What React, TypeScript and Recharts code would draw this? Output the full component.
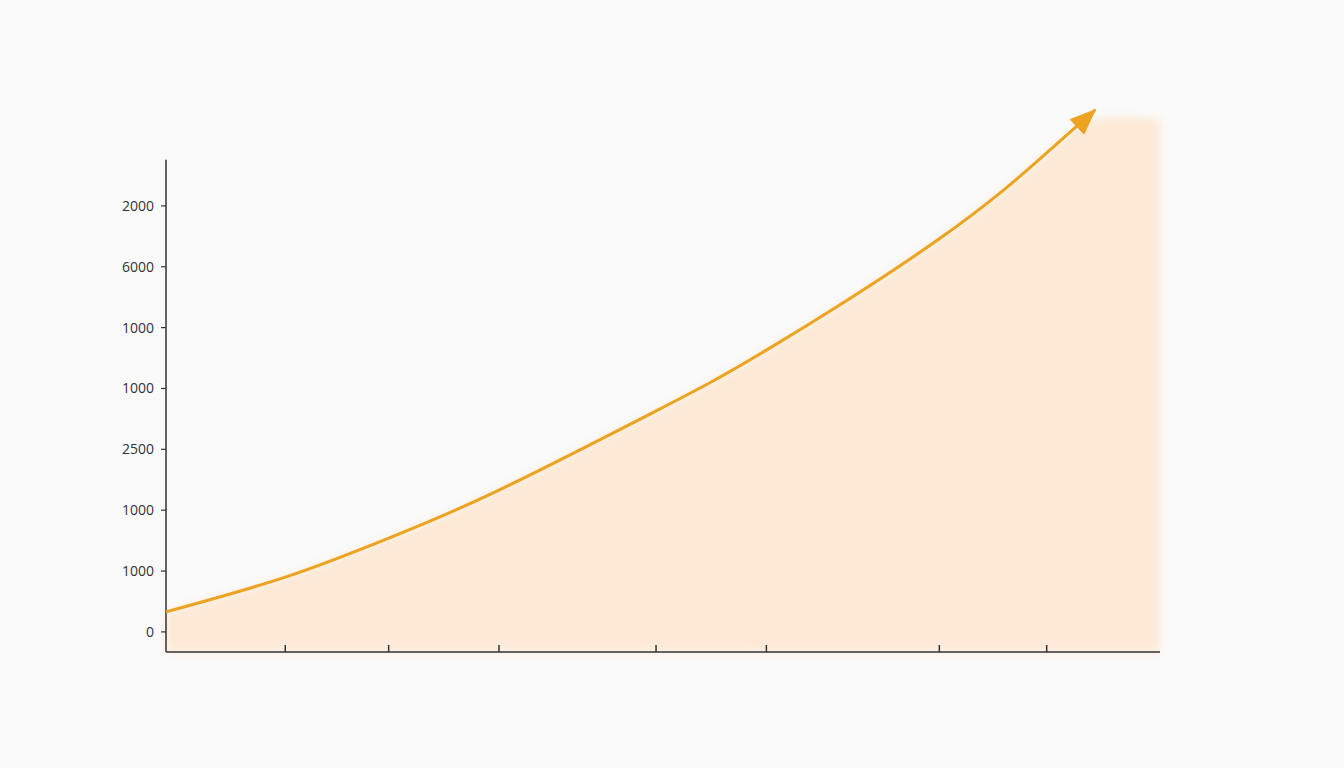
import { ComposedChart, Line, Area, XAxis, YAxis, ReferenceLine } from 'recharts';

// y axis: evenly spaced tick slots, labels as printed (bottom -> top)
const yTickSlots = [0, 1, 2, 3, 4, 5, 6, 7];
const yTickLabels = ['0', '1000', '1000', '2500', '1000', '1000', '6000', '2000'];

// x axis: unlabeled tick marks
const xTicks = [12, 22.4, 33.5, 49.3, 60.4, 77.8, 88.6];

// curve samples (x, value)
const curveX = [0, 12, 22.4, 33.5, 49.3, 60.4, 77.8, 88.6, 93.5];
const curveY = [0.33, 0.9, 1.54, 2.33, 3.63, 4.63, 6.46, 7.87, 8.58];

// shaded region: follows curve, then flat plateau to right edge
const shadeX = [0, 12, 22.4, 33.5, 49.3, 60.4, 77.8, 88.6, 93.5, 100];
const shadeY = [0.33, 0.9, 1.54, 2.33, 3.63, 4.63, 6.46, 7.87, 8.42, 8.42];

const data = shadeX.map((x, i) => {
    const ci = curveX.indexOf(x);
    return { x, shade: shadeY[i], value: ci >= 0 ? curveY[ci] : null };
});

const LINE = '#eda31f';

// eslint-disable-next-line @typescript-eslint/no-explicit-any
const ArrowDot = (props: any) => {
    const { cx, cy, index } = props;
    if (index !== curveX.length - 1 || cx == null || cy == null) return <g key={`d${index}`} />;
    const ang = (43 * Math.PI) / 180;
    const dx = Math.cos(ang), dy = -Math.sin(ang);
    const len = 25, half = 10;
    const bx = cx - dx * len, by = cy - dy * len;
    const px = -dy, py = dx;
    const pts = `${cx},${cy} ${bx + px * half},${by + py * half} ${bx - px * half},${by - py * half}`;
    return <polygon key={`d${index}`} points={pts} fill={LINE} stroke={LINE} strokeLinejoin="round" strokeWidth={1} />;
};

export default function App() {
    return (
        <div style={{ position: 'absolute', left: 0, top: 0, width: 1344, height: 768, background: '#fafafa' }}>
            <ComposedChart width={1344} height={768} data={data} margin={{ top: 100, right: 184, bottom: 116, left: 0 }}>
                <defs>
                    <filter id="soft" x="-10%" y="-10%" width="120%" height="120%">
                        <feGaussianBlur stdDeviation="5" />
                    </filter>
                </defs>
                <XAxis
                    dataKey="x"
                    type="number"
                    domain={[0, 100]}
                    ticks={xTicks}
                    mirror
                    tickSize={7}
                    tickFormatter={() => ''}
                    stroke="#333"
                    strokeWidth={1.5}
                    height={30}
                />
                <YAxis
                    type="number"
                    domain={[-0.33, 8.74]}
                    ticks={yTickSlots}
                    width={166}
                    axisLine={false}
                    tickSize={5}
                    tickMargin={7}
                    tickLine={{ stroke: '#333', strokeWidth: 1.2 }}
                    tickFormatter={(v) => yTickLabels[Number(v)] ?? ''}
                    tick={{ fill: '#333', fontSize: 14, fontFamily: '"Open Sans", sans-serif' }}
                />
                <ReferenceLine
                    segment={[{ x: 0, y: -0.33 }, { x: 0, y: 7.76 }]}
                    stroke="#333"
                    strokeWidth={1.5}
                />
                <Area
                    type="natural"
                    dataKey="shade"
                    baseValue="dataMin"
                    fill="#fde9d5"
                    fillOpacity={1}
                    stroke="none"
                    filter="url(#soft)"
                    isAnimationActive={false}
                />
                <Line
                    type="natural"
                    dataKey="value"
                    stroke={LINE}
                    strokeWidth={3}
                    dot={ArrowDot}
                    activeDot={false}
                    isAnimationActive={false}
                />
            </ComposedChart>
        </div>
    );
}
